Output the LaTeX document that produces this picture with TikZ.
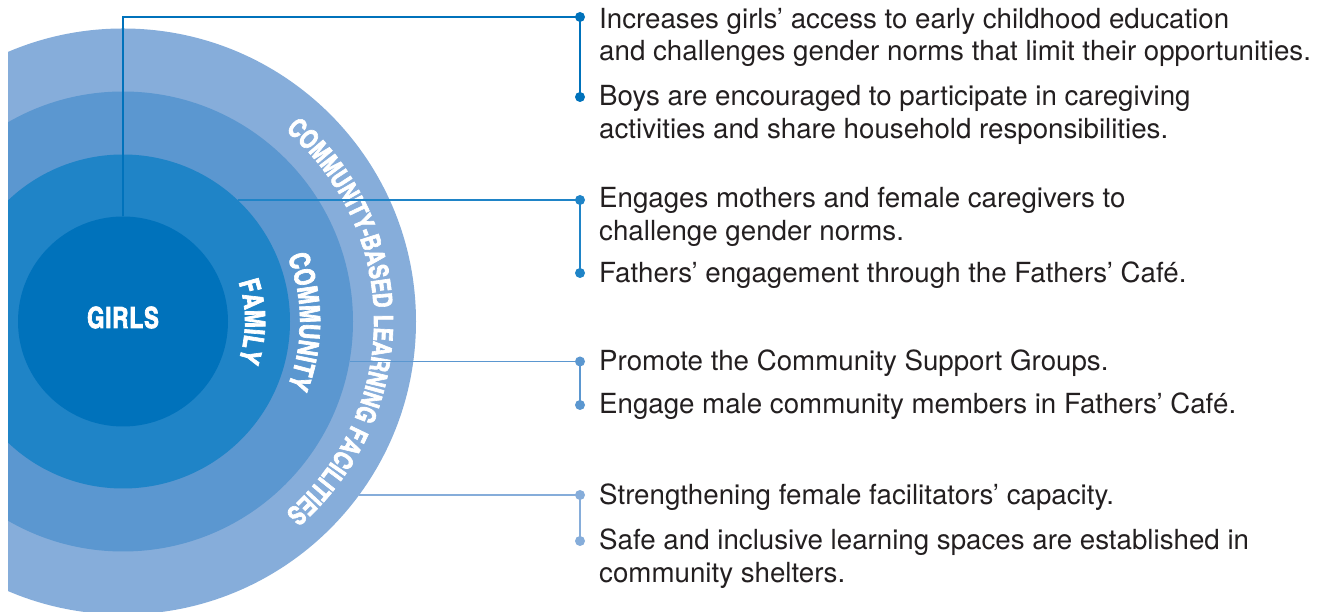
\documentclass[tikz,border=0pt]{standalone}
\usepackage{fontspec}
\setmainfont{TeX Gyre Heros}
\newfontfamily\bandfont[FakeBold=2.4, FakeStretch=0.94, LetterSpace=3]{texgyreheroscn-bold.otf}
\usepackage{xcolor}
\usetikzlibrary{positioning, decorations.text}

\definecolor{girlsblue}{RGB}{0,114,187}
\definecolor{familyblue}{RGB}{31,132,199}
\definecolor{communityblue}{RGB}{91,151,208}
\definecolor{facilityblue}{RGB}{134,173,218}
\definecolor{ink}{RGB}{35,31,32}

\tikzset{
    x=1pt, y=1pt, % one unit is one point
    ring/.style={circle, fill=#1, draw=none, inner sep=0pt}, % the filled discs
}
\tikzstyle{link} = [line width=1.4pt]
\tikzstyle{dot} = [circle, inner sep=0pt, minimum size=10pt]
\tikzstyle{item} = [anchor=base west, align=left, inner sep=0pt, text=ink,
    font=\fontsize{27.7}{32.5}\selectfont]

\begin{document}
\begin{tikzpicture}
\useasboundingbox (0,0) rectangle (1318,612);
\coordinate (o) at (123,290.5);

% the four rings, cut at the left and bottom edge
\begin{scope}
    \clip (8,0) rectangle (1318,612);
    \node[ring=facilityblue, minimum size=586pt] (cblf) at (o) {};
    \node[ring=communityblue, minimum size=460pt] (community) at (o) {};
    \node[ring=familyblue, minimum size=334pt] (family) at (o) {};
    \node[ring=girlsblue, minimum size=210pt] (girls) at (o) {};
\end{scope}

\node[text=white, font=\bandfont\fontsize{29}{29}\selectfont] (girlslabel) at ([yshift=4pt]o) {GIRLS};

\path[decorate, decoration={text along path, text align=center, text color=white,
    text={|\bandfont\fontsize{26.5}{26.5}\selectfont|COMMUNITY-BASED LEARNING FACILITIES}}]
    ([shift={(75:251)}]o) arc[start angle=75, end angle=-75, radius=251];
\path[decorate, decoration={text along path, text align=center, text color=white,
    text={|\bandfont\fontsize{28}{28}\selectfont|COMMUNITY}}]
    ([shift={(60:177)}]o) arc[start angle=60, end angle=-60, radius=177];
\path[decorate, decoration={text along path, text align=center, text color=white,
    text={|\bandfont\fontsize{28}{28}\selectfont|FAMILY}}]
    ([shift={(60:122)}]o) arc[start angle=60, end angle=-60, radius=122];

% bullets
\node[dot, fill=girlsblue] (d1a) at (580,595) {};
\node[dot, fill=girlsblue] (d1b) at (580,515) {};
\node[dot, fill=familyblue] (d2a) at (580,412) {};
\node[dot, fill=familyblue] (d2b) at (580,339) {};
\node[dot, fill=communityblue] (d3a) at (580,250.5) {};
\node[dot, fill=communityblue] (d3b) at (580,207) {};
\node[dot, fill=facilityblue] (d4a) at (580,117) {};
\node[dot, fill=facilityblue] (d4b) at (580,71) {};

% where the leaders leave the rings
\coordinate (f2) at (237.6,412);
\coordinate (f3) at (349.5,250.5);
\coordinate (f4) at (359.1,117);

\draw[link, girlsblue] (girls.north) |- (d1a.center) -- (d1b.center);
\draw[link, familyblue] (f2) -- (d2a.center) -- (d2b.center);
\draw[link, communityblue] (f3) -- (d3a.center) -- (d3b.center);
\draw[link, facilityblue] (f4) -- (d4a.center) -- (d4b.center);

% the texts (two-line ones sit on their last line)
\node[item] (t1a) at ([xshift=19pt, yshift=-44pt]d1a.center) {Increases girls’ access to early childhood education\\and challenges gender norms that limit their opportunities.};
\node[item] (t1b) at ([xshift=19pt, yshift=-41.5pt]d1b.center) {Boys are encouraged to participate in caregiving\\activities and share household responsibilities.};
\node[item] (t2a) at ([xshift=19pt, yshift=-40.5pt]d2a.center) {Engages mothers and female caregivers to\\challenge gender norms.};
\node[item] (t2b) at ([xshift=19pt, yshift=-10pt]d2b.center) {Fathers’ engagement through the Fathers’ Café.};
\node[item] (t3a) at ([xshift=19pt, yshift=-9pt]d3a.center) {Promote the Community Support Groups.};
\node[item] (t3b) at ([xshift=19pt, yshift=-9pt]d3b.center) {Engage male community members in Fathers’ Café.};
\node[item] (t4a) at ([xshift=19pt, yshift=-10pt]d4a.center) {Strengthening female facilitators’ capacity.};
\node[item] (t4b) at ([xshift=19pt, yshift=-41.5pt]d4b.center) {Safe and inclusive learning spaces are established in\\community shelters.};
\end{tikzpicture}
\end{document}
